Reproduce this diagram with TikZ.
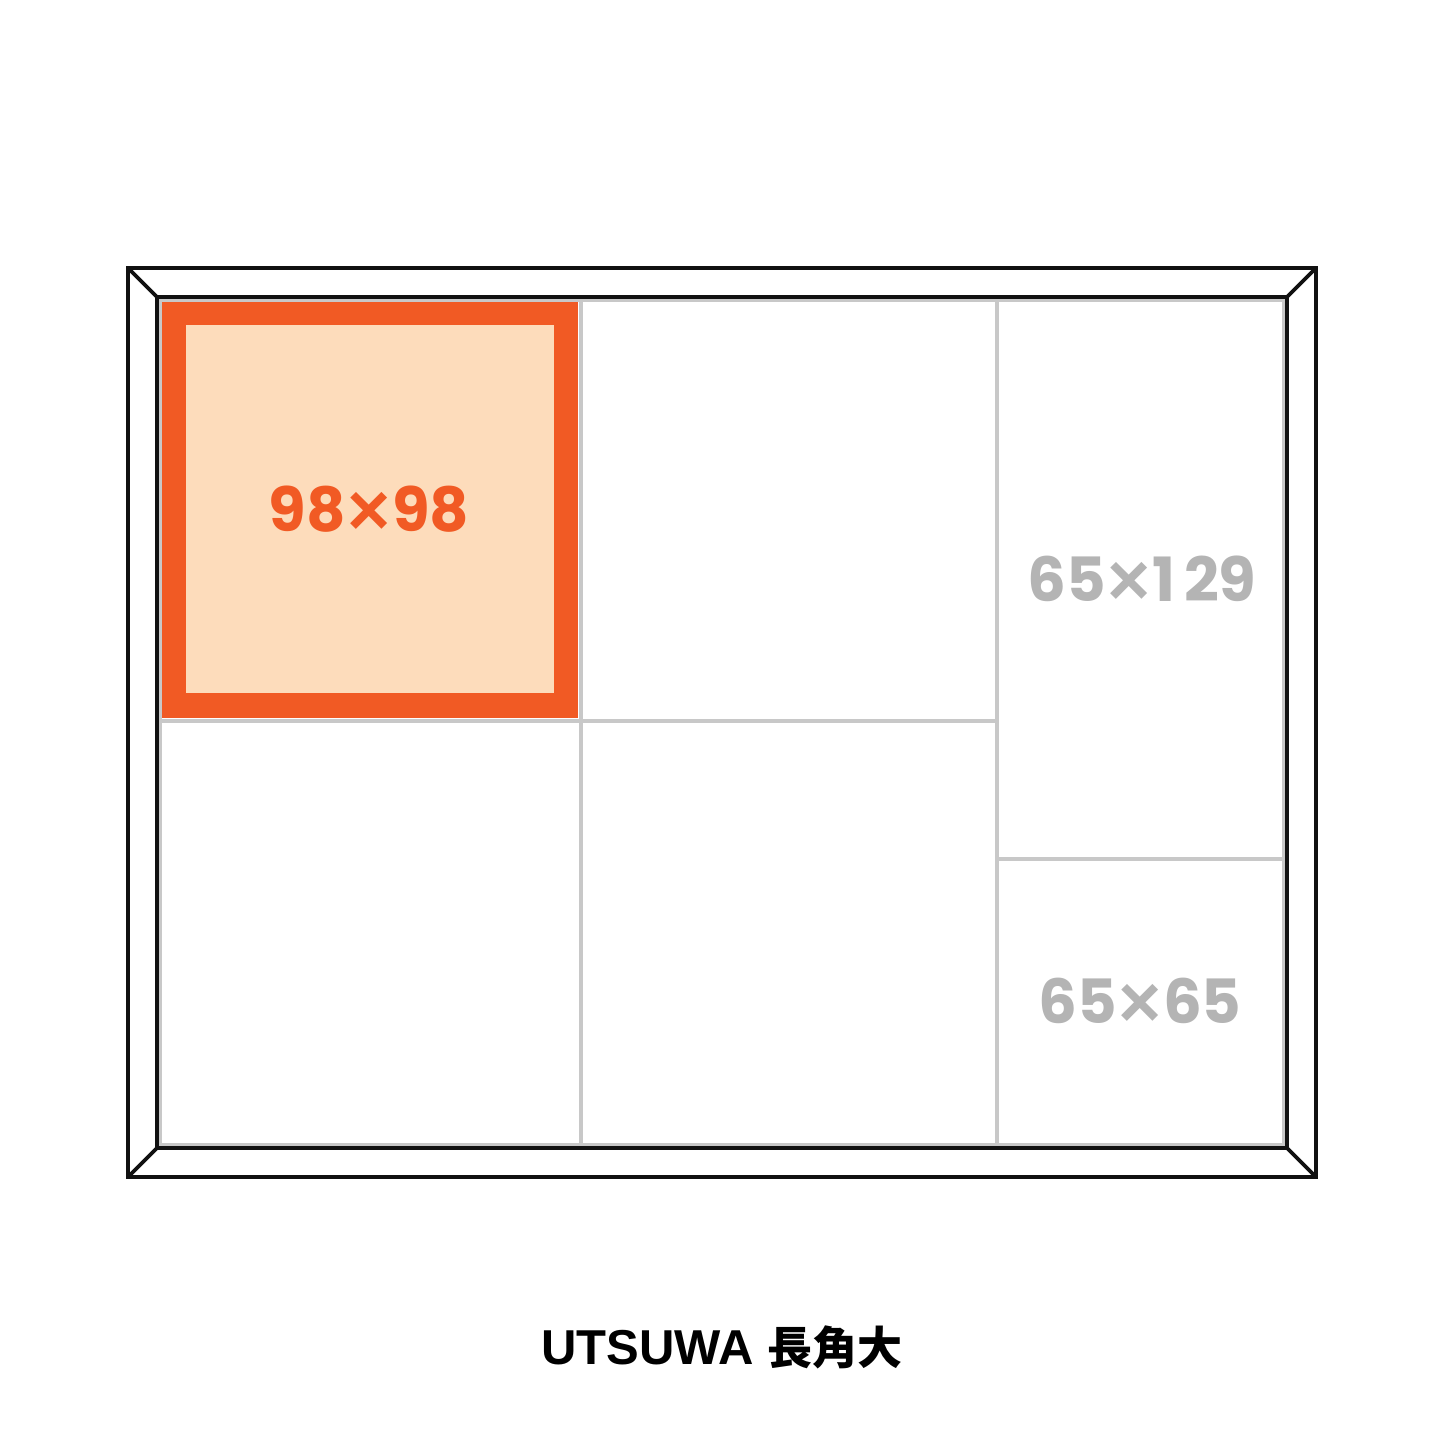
\documentclass[tikz,border=0pt]{standalone}
\usepackage{fontspec}
\newfontfamily\numfont{Poppins}
\newfontfamily\latinfont{Liberation Sans}
\newfontfamily\cjkfont{Noto Sans CJK JP}
\definecolor{frameblack}{HTML}{111111}
\definecolor{divgray}{HTML}{C8C8C8}
\definecolor{labelgray}{HTML}{B4B4B4}
\definecolor{accent}{HTML}{F15A24}
\definecolor{accentfill}{HTML}{FDDCBB}
\newcommand{\bigtimes}{\kern1.5pt\raisebox{-4pt}{\latinfont\bfseries\fontsize{74}{74}\selectfont ×}\kern1.5pt}
\tikzset{
  framestroke/.style={draw=frameblack, line width=3.6pt},
  divider/.style={draw=divgray, line width=3.2pt},
  sizelabel/.style={font=\numfont\bfseries\fontsize{61}{61}\selectfont, inner sep=0pt, anchor=center},
}
\begin{document}
\begin{tikzpicture}[x=1pt,y=-1pt]
\useasboundingbox[fill=white] (0,0) rectangle (1445,1445);
% compartments
\draw[divider] (160,300) rectangle (1284,1145);
\draw[divider] (581,300) -- (581,1145);
\draw[divider] (997,300) -- (997,1145);
\draw[divider] (160,721) -- (997,721);
\draw[divider] (997,859) -- (1284,859);
% highlighted square
\fill[accent] (162,302) rectangle (578,718);
\fill[accentfill] (186,325) rectangle (554,693);
% frame
\draw[framestroke] (128,268) rectangle (1316,1177);
\draw[framestroke] (157,297) rectangle (1287,1148);
\draw[framestroke] (128,268) -- (157,297);
\draw[framestroke] (1316,268) -- (1287,297);
\draw[framestroke] (128,1177) -- (157,1148);
\draw[framestroke] (1316,1177) -- (1287,1148);
% labels
\node[sizelabel, text=accent] (a) at (369,511) {98\bigtimes 98};
\node[sizelabel, text=labelgray] (b) at (1142,581) {65\bigtimes 1\kern9pt 29};
\node[sizelabel, text=labelgray] (c) at (1140,1003) {65\bigtimes 65};
\node[inner sep=0pt, anchor=center] (t) at (722,1347) {\latinfont\bfseries\fontsize{49}{49}\selectfont UTSUWA \cjkfont\bfseries\fontsize{45}{45}\selectfont 長角大};
\end{tikzpicture}
\end{document}
